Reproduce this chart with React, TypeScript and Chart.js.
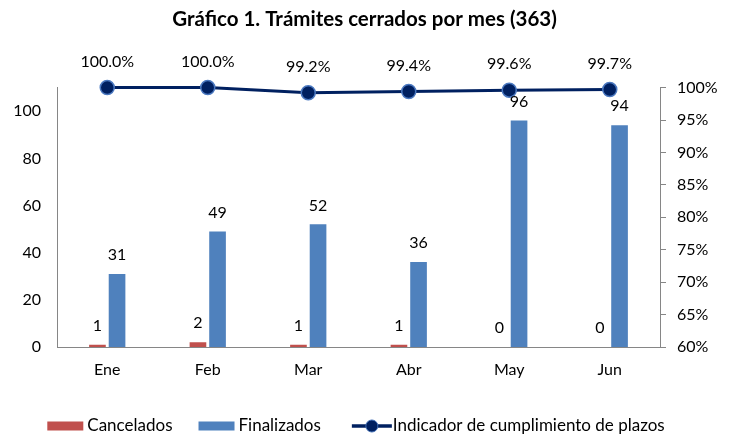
import React, { useEffect, useRef } from "react";
import { Chart, registerables } from "chart.js";

Chart.register(...registerables);

const months = ["Ene", "Feb", "Mar", "Abr", "May", "Jun"];
const cancelados = [1, 2, 1, 1, 0, 0];
const finalizados = [31, 49, 52, 36, 96, 94];
const cumplimiento = [100.0, 100.0, 99.2, 99.4, 99.6, 99.7];
const leftTicks = [0, 20, 40, 60, 80, 100];
const rightTicks = [60, 65, 70, 75, 80, 85, 90, 95, 100];
const titleText = "Gráfico 1. Trámites cerrados por mes (363)";
const seriesNames = ["Cancelados", "Finalizados", "Indicador de cumplimiento de plazos"];

const RED = "#c0504d";
const BLUE = "#4f81bd";
const NAVY = "#002060";
const AXIS = "#868686";
const FONT = "Lato";

const dataLabelPlugin = {
  id: "dataLabels",
  afterDatasetsDraw(chart: any) {
    const ctx = chart.ctx;
    ctx.save();
    ctx.font = `16px ${FONT}`;
    ctx.fillStyle = "#000";
    ctx.textAlign = "center";
    ctx.textBaseline = "middle";
    chart.data.datasets.forEach((ds: any, di: number) => {
      const meta = chart.getDatasetMeta(di);
      meta.data.forEach((el: any, i: number) => {
        const v = ds.data[i];
        if (ds.type === "line") {
          ctx.fillText(v.toFixed(1) + "%", el.x, el.y - 26);
        } else {
          ctx.fillText(String(v), el.x, el.y - 19);
        }
      });
    });
    ctx.restore();
  },
};

const legendPlugin = {
  id: "customLegend",
  afterDraw(chart: any) {
    const ctx = chart.ctx;
    ctx.save();
    ctx.font = `17px ${FONT}`;
    ctx.textBaseline = "middle";
    ctx.textAlign = "left";
    const iconW = [36, 36, 40];
    const gapIcon = [4, 4, 1];
    const gapItem = [26, 31];
    const widths = seriesNames.map((n, i) => iconW[i] + gapIcon[i] + ctx.measureText(n).width);
    const total = widths.reduce((a, b) => a + b, 0) + gapItem[0] + gapItem[1];
    let x = 356 - total / 2;
    const y = 426;
    seriesNames.forEach((name, i) => {
      if (i === 0 || i === 1) {
        ctx.fillStyle = i === 0 ? RED : BLUE;
        ctx.fillRect(x, y - 4.5, iconW[i], 9);
      } else {
        ctx.strokeStyle = NAVY;
        ctx.lineWidth = 3.5;
        ctx.beginPath();
        ctx.moveTo(x, y);
        ctx.lineTo(x + iconW[i], y);
        ctx.stroke();
        ctx.beginPath();
        ctx.arc(x + iconW[i] / 2, y, 6, 0, Math.PI * 2);
        ctx.fillStyle = NAVY;
        ctx.fill();
        ctx.lineWidth = 1;
        ctx.strokeStyle = "#3d6bb3";
        ctx.stroke();
      }
      ctx.fillStyle = "#000";
      ctx.fillText(name, x + iconW[i] + gapIcon[i], y);
      x += widths[i] + (gapItem[i] || 0);
    });
    ctx.restore();
  },
};

export default function App() {
  const ref = useRef<HTMLCanvasElement>(null);
  useEffect(() => {
    document.body.style.margin = "0";
    const chart = new Chart(ref.current as HTMLCanvasElement, {
      type: "bar",
      data: {
        labels: months,
        datasets: [
          {
            type: "line",
            label: seriesNames[2],
            data: cumplimiento,
            yAxisID: "y1",
            borderColor: NAVY,
            borderWidth: 3,
            pointRadius: 7,
            pointBackgroundColor: NAVY,
            pointBorderColor: "#4a78c0",
            pointBorderWidth: 1.5,
            clip: false,
            order: 0,
          } as any,
          {
            type: "bar",
            label: seriesNames[0],
            data: cancelados,
            yAxisID: "y",
            backgroundColor: RED,
            borderWidth: 0,
            categoryPercentage: 0.39,
            barPercentage: 0.85,
            order: 1,
          },
          {
            type: "bar",
            label: seriesNames[1],
            data: finalizados,
            yAxisID: "y",
            backgroundColor: BLUE,
            borderWidth: 0,
            categoryPercentage: 0.39,
            barPercentage: 0.85,
            order: 2,
          },
        ],
      },
      options: {
        animation: false,
        responsive: false,
        layout: { padding: { left: 0, right: 0, top: 0, bottom: 49 } },
        plugins: {
          legend: { display: false },
          tooltip: { enabled: false },
          title: {
            display: true,
            text: titleText,
            color: "#000",
            font: { family: FONT, size: 20.5, weight: "bold" },
            padding: { top: 7, bottom: 56 },
          },
        },
        scales: {
          x: {
            offset: true,
            grid: { display: false, drawTicks: false },
            border: { display: true, color: AXIS, width: 1 },
            ticks: { color: "#000", font: { family: FONT, size: 16 }, padding: 13 },
            afterFit: (s: any) => {
              s.height = 40;
            },
          },
          y: {
            position: "left",
            min: 0,
            max: 110,
            grid: { display: false, drawTicks: false },
            border: { display: true, color: AXIS, width: 1 },
            ticks: { color: "#000", font: { family: FONT, size: 16 }, padding: 16 },
            afterBuildTicks: (s: any) => {
              s.ticks = leftTicks.map((v) => ({ value: v }));
            },
            afterFit: (s: any) => {
              s.width = 57;
            },
          },
          y1: {
            position: "right",
            min: 60,
            max: 100,
            grid: {
              display: true,
              drawOnChartArea: false,
              drawTicks: true,
              tickLength: 6,
              color: AXIS,
            },
            border: { display: true, color: AXIS, width: 1 },
            ticks: {
              color: "#000",
              font: { family: FONT, size: 16 },
              padding: 11,
              callback: (v: any) => v + "%",
            },
            afterBuildTicks: (s: any) => {
              s.ticks = rightTicks.map((v) => ({ value: v }));
            },
            afterFit: (s: any) => {
              s.width = 69;
            },
          },
        },
      },
      plugins: [dataLabelPlugin, legendPlugin],
    });
    return () => chart.destroy();
  }, []);
  return (
    <div style={{ position: "absolute", left: 0, top: 0, width: 729, height: 436, background: "#fff" }}>
      <canvas ref={ref} width={729} height={436} style={{ display: "block" }} />
    </div>
  );
}
